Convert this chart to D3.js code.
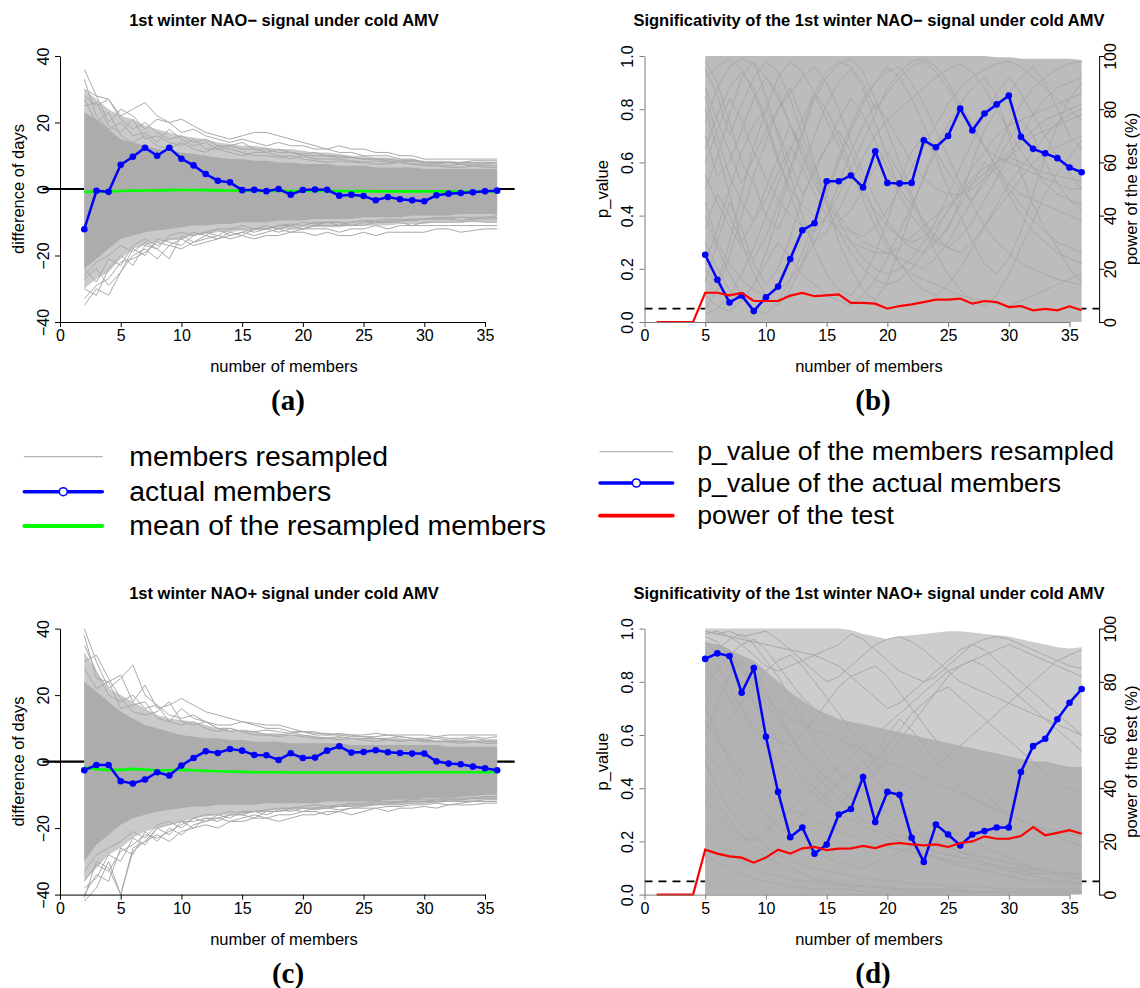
<!DOCTYPE html>
<html><head><meta charset="utf-8">
<script src="https://cdn.jsdelivr.net/npm/d3@7"></script>
<style>body{margin:0;background:#fff}</style>
</head><body><svg id="chart" width="1140" height="988" xmlns="http://www.w3.org/2000/svg"></svg>
<script>
// ---------------- DATA ----------------
const xTicks = [0,5,10,15,20,25,30,35];
const diffTicks = [-40,-20,0,20,40];
const diffTickLabels = ["\u221240","\u221220","0","20","40"];
const pTicks = [0,0.2,0.4,0.6,0.8,1.0];
const pTickLabels = ["0.0","0.2","0.4","0.6","0.8","1.0"];
const powTicks = [0,20,40,60,80,100];
const powTickLabels = ["0","20","40","60","80","100"];

// panel (a): members 2..36
const aActual = [-12.1,-0.55,-0.85,7.3,9.7,12.4,10,12.4,9.1,7.1,4.5,2.5,2.0,-0.35,-0.25,-0.65,0,-1.7,-0.3,-0.15,-0.25,-2,-1.7,-2.1,-3.4,-2.4,-3.1,-3.4,-3.7,-1.9,-1.4,-1.2,-1,-0.7,-0.5];
const aMean = [-0.9,-0.8,-0.7,-0.6,-0.5,-0.45,-0.4,-0.35,-0.3,-0.3,-0.35,-0.4,-0.45,-0.5,-0.55,-0.6,-0.6,-0.6,-0.6,-0.6,-0.6,-0.65,-0.65,-0.65,-0.7,-0.7,-0.7,-0.7,-0.7,-0.7,-0.7,-0.75,-0.75,-0.75,-0.75];
const aCoreHi = [23,21,18,15,14,13,12,11.5,11,10.5,10,9.5,9,9,8.5,8.5,8,8,7.5,7.5,7.5,7,7,7,6.5,6.5,6.5,6.5,6,6,6,6,6,6,6];
const aCoreLo = [-24,-21,-18,-15,-14,-13,-12.5,-12,-11.5,-11,-11,-10.5,-10.5,-10,-10,-10,-9.5,-9.5,-9.5,-9,-9,-9,-9,-8.5,-8.5,-8.5,-8.5,-8,-8,-8,-8,-7.5,-7.5,-7.5,-7.5];
const aOuterHi = [30,27,24,22,21,19,18,17,16,15.5,15,14,13.5,13,13,12.5,12,12,11.5,11,11,10.5,10,10,9.5,9.5,9,9,8.5,8.5,8.5,8,8,8,8];
const aOuterLo = [-30,-27,-25,-21,-18,-17,-16,-15.5,-15,-14,-13.5,-13,-13,-12.5,-12.5,-12,-12,-12,-11.5,-11.5,-11.5,-11.5,-11,-11,-11,-11,-10.5,-10.5,-10.5,-10,-10,-10,-10,-10,-10];
const aMembers = [
 [36,28,27,22,24,26,22,20,21,19,17,16,15,16,17,17,16,15,14,13,12,13,12,12,11,11,10,10,9,9,9,9,9,9,9],
 [30,28,20,24,22,18,21,20,17,18,16,15,14,15,14,13,14,13,13,12,12,11,11,10,10,10,9,9,8,8,8,8,8.5,8.5,8.5],
 [28,25,27,21,18,20,17,15,16,14,15,13,13,12,12,12,11,11,10,10,10,9.5,9.5,9,9,9,8.5,8.5,8,8,8,8,8,8,8],
 [33,22,18,20,16,17,14,18,15,13,14,12,13,14,12,11,12,11,10.5,11,10,10,9.5,9,9,8.5,8,8.5,8,7.5,8,7.5,7.5,7.5,8],
 [25,26,19,17,21,15,16,14,13,15,12,12,11,10,11,11,10,9,10,9,9,9,8.5,8,8.5,8,8,7.5,7.5,7,7,7.5,7,7,7],
 [27,20,23,16,14,16,13,12,14,12,11,13,12,11,10,10,9.5,10,9,8.5,8,8.5,8,8,7.5,7.5,8,7.5,7,7,6.5,6.5,7,6.5,6.5],
 [-35,-30,-32,-25,-20,-18,-21,-17,-18,-16,-15,-14,-15,-14,-15,-14,-14,-13,-13,-14,-13,-14,-14,-13,-14,-13,-13,-13,-13,-12,-12,-13,-12.5,-12,-12],
 [-33,-29,-27,-22,-21,-19,-16,-17,-15,-17,-16,-15,-14,-13,-14,-13,-12,-13,-12,-12,-12,-13,-12,-12,-11,-12,-11,-11,-11,-11,-11,-11,-11,-11,-11],
 [-30,-32,-24,-20,-23,-17,-18,-21,-14,-16,-14,-15,-13,-14,-12,-12,-13,-12,-12,-11,-11,-11,-11,-11,-10,-10,-10,-11,-10,-10,-10,-10,-9.5,-10,-10],
 [-27,-24,-29,-25,-18,-20,-15,-16,-17,-14,-13,-14,-12,-12,-13,-12,-11,-11,-12,-11,-10,-10,-11,-10,-10,-10,-9.5,-9.5,-9,-9,-9,-9.5,-9,-9,-9],
 [-26,-22,-20,-17,-19,-16,-18,-14,-13,-14,-13,-12,-14,-13,-12,-11,-12,-11,-10,-10.5,-10,-11,-10,-9.5,-10,-9.5,-9,-9.5,-9,-9,-9,-8.5,-9,-8.5,-8.5],
 [-24,-28,-21,-23,-17,-15,-17,-15,-15,-13,-14,-12,-12,-11,-12,-12,-11,-10.5,-11,-10,-10,-10,-10,-9.5,-9.5,-9,-9.5,-9,-9,-8.5,-8.5,-8.5,-8.5,-8.5,-8]
];

// panel (b): p-values, members 5..36 ; power 1..36 (%)
const bActual = [.253,.159,.073,.10,.041,.093,.133,.237,.345,.371,.529,.529,.551,.506,.642,.523,.521,.523,.683,.657,.699,.802,.72,.784,.818,.851,.696,.651,.634,.616,.581,.563];
const bPower = [0,0,0,0,11,11,10,10.9,7.9,7.9,7.9,9.9,10.9,9.7,10,10.4,7.2,7.2,6.9,5,6,6.6,7.5,8.4,8.4,8.8,6.9,7.9,7.5,5.6,6,4.4,4.9,4.4,5.9,4.4];
const bTop = [100,100,100,100,100,100,100,100,100,100,100,100,100,100,100,100,100,100,100,100,100,100,100,100,99.5,99.5,99,99,99,99,99,98.5];
const bMembersPct = [
 [98,90,75,60,52,40,35,45,58,70,82,90,95,88,75,62,50,44,38,30,35,46,60,72,80,86,92,96,90,80,70,65],
 [5,12,25,40,55,68,80,88,76,60,45,30,20,12,8,15,28,42,55,66,74,82,88,92,85,70,56,44,35,28,20,15],
 [50,62,78,92,98,85,70,55,40,28,18,12,10,16,26,38,52,64,70,62,50,40,30,22,18,24,34,48,62,74,84,90],
 [80,65,48,30,18,10,6,12,22,35,48,60,72,82,90,96,92,84,74,64,56,50,46,52,60,68,76,70,60,52,46,42],
 [30,20,12,8,14,26,40,56,70,84,92,97,99,94,84,72,60,48,36,26,18,12,8,6,10,18,28,38,48,56,62,68],
 [65,78,88,94,88,76,62,48,36,30,34,42,52,62,70,76,80,84,88,92,95,97,94,88,80,72,64,58,52,48,46,44],
 [15,30,45,35,22,14,20,32,46,58,66,72,64,52,40,30,22,16,12,10,14,20,28,36,44,52,58,64,70,75,78,80],
 [92,96,99,95,86,74,60,50,44,40,38,36,34,32,36,42,50,58,66,74,82,88,92,95,97,98,96,92,88,84,80,76],
 [40,28,18,10,5,3,8,16,26,38,50,62,74,84,90,94,96,90,82,72,62,52,44,36,30,26,22,20,18,16,15,14],
 [70,55,60,72,84,92,86,74,62,52,44,38,42,50,58,64,56,46,38,32,28,26,30,36,42,48,54,60,64,66,68,70],
 [22,35,50,64,74,80,72,60,48,56,66,76,84,78,68,58,48,40,34,30,28,32,38,46,54,62,70,78,84,88,90,92],
 [88,76,64,52,62,72,80,86,92,96,90,80,68,56,46,38,32,28,26,30,36,44,52,60,56,48,40,34,30,26,24,22],
 [10,6,4,8,14,22,30,24,18,14,10,8,6,10,16,24,34,44,54,64,72,78,74,66,58,50,44,38,34,30,28,26],
 [55,45,36,28,24,32,44,58,72,86,94,98,96,90,80,86,92,96,98,94,88,80,72,66,62,60,58,56,54,52,50,50],
 [95,85,70,82,92,98,94,84,70,58,48,40,34,30,28,26,24,22,20,24,30,38,46,54,64,74,82,88,92,95,97,98],
 [35,48,40,30,38,50,62,74,66,56,46,38,30,24,20,18,20,24,30,38,48,58,68,78,86,92,86,78,70,62,56,50],
 [3,5,10,18,28,40,52,64,76,86,80,70,58,46,36,28,22,18,16,14,12,10,9,8,7,6,8,10,12,14,16,18],
 [60,72,84,76,64,54,46,40,36,34,40,48,58,68,78,88,94,98,99,96,90,82,74,66,58,52,48,46,44,42,40,38],
 [45,30,22,16,12,10,12,16,22,30,40,52,64,74,82,76,68,60,54,50,48,48,50,54,58,62,66,70,72,74,76,78],
 [75,88,96,99,97,92,84,74,64,54,44,34,26,20,16,14,16,20,26,34,42,50,58,64,70,74,76,78,80,82,84,86],
 [20,14,30,48,66,80,92,98,94,86,76,66,56,48,42,36,32,30,32,36,42,48,54,58,60,62,60,58,56,55,54,53],
 [85,70,55,45,38,46,56,66,58,48,40,34,30,28,26,26,28,32,36,40,44,48,52,56,60,64,68,72,76,78,80,82]
];

// panel (c): members 2..36
const cActual = [-2.6,-1,-1,-5.9,-6.6,-5.4,-3.2,-4.2,-1.2,1.1,3.1,2.6,3.8,3.3,2,1.9,0.5,2.5,1.1,1.2,3.3,4.6,2.7,2.9,3.4,2.8,2.6,2.4,2.4,0.1,-0.6,-0.8,-1.5,-2,-2.6];
const cMean = [-1.8,-2.3,-2.5,-2.5,-2.2,-2.4,-2.6,-2.6,-2.4,-2.6,-2.8,-2.9,-3.0,-3.1,-3.2,-3.2,-3.2,-3.3,-3.3,-3.3,-3.3,-3.3,-3.3,-3.3,-3.3,-3.3,-3.3,-3.2,-3.2,-3.2,-3.2,-3.2,-3.2,-3.2,-3.2];
const cCoreHi = [24,21,18,15,13,11,10,9,8,7.5,7,7,6.5,6.5,6,6,6,5.5,5.5,5.5,5.5,5.5,5,5,5,5,5,5,5,5,4.5,4.5,4.5,4.5,4.5];
const cCoreLo = [-30,-25,-22,-19,-17,-16,-15,-14.5,-14,-13.5,-13.5,-13,-13,-13,-13,-12.5,-12.5,-12.5,-12.5,-12.5,-12,-12,-12,-12,-12,-11.5,-11.5,-11.5,-11,-11,-11,-10.5,-10.5,-10,-10];
const cOuterHi = [33,27,22,20,18,16,14,13,12.5,12,11,10,9.5,9,9,8.5,8.5,8,8,7.5,7.5,7.5,7,7,7,7,7,6.5,6.5,6.5,6.5,6.5,6.5,6.5,6.5];
const cOuterLo = [-36,-32,-28,-26,-23,-21,-20,-19,-18,-17,-16.5,-16,-16,-15.5,-15,-15,-14.5,-14.5,-14,-14,-14,-13.5,-13.5,-13.5,-13,-13,-13,-12.5,-12.5,-12.5,-12,-12,-12,-11.5,-11.5];
const cMembers = [
 [40,30,22,25,29,20,17,14,13,14,12,11,11,12,11,10,10,9,9,8.5,8.5,8,8,8,8.5,8,8,8,8,7.5,8,8,8,8,8],
 [38,25,24,26,18,23,16,17,19,17,15,14,13,12,11.5,11,11,10,9,9,8,8.5,8,7.5,7.5,8,7.5,7,7,7.5,7,7,7.5,7,7.5],
 [35,27,20,18,20,16,17,12,16,13,12,10,10,9,9,9.5,9,8.5,9,8,8,8,7.5,7.5,7,7,7.5,7,6.5,7,6.5,6.5,7,6.5,6.5],
 [30,32,25,19,15,14,15,18,12,11,12,10,9,9.5,9,8,8,8.5,8,7.5,7,7.5,7,7,7,6.5,6.5,6.5,6.5,6,6,6,6,6,6],
 [28,22,24,16,17,18,13,12,11,12,10,9,10,9,8,8,7.5,8,7.5,7,7,6.5,7,6.5,6,6.5,6,6.5,6,6,6,5.5,6,5.5,5.5],
 [-42,-38,-30,-40,-27,-24,-22,-24,-21,-20,-19,-20,-18,-18,-17,-17,-18,-17,-16,-16,-15,-15,-16,-15,-14,-15,-14,-14,-13.5,-14,-13,-13,-13,-12.5,-12.5],
 [-40,-34,-36,-26,-28,-21,-24,-20,-22,-19,-18,-17,-18,-17,-16,-17,-16,-16,-15,-15,-16,-15,-14,-14,-14,-13.5,-13.5,-13,-13,-12.5,-13,-12.5,-12,-12,-12],
 [-38,-35,-28,-30,-23,-25,-20,-19,-18,-20,-17,-18,-16,-16,-17,-15,-15,-14.5,-15,-14,-14,-14.5,-14,-13.5,-13,-13,-13,-12.5,-12.5,-12,-12,-12,-12,-11.5,-11.5],
 [-36,-31,-33,-27,-25,-22,-23,-21,-19,-17,-18,-16,-17,-15,-15,-16,-14.5,-15,-14,-14.5,-14,-13.5,-13.5,-13,-13,-12.5,-12.5,-12,-12,-12,-11.5,-11.5,-11,-11,-11],
 [-33,-28,-26,-24,-21,-23,-19,-18,-20,-17,-16,-16,-15,-15.5,-15,-14.5,-14,-14,-13.5,-13,-13.5,-13,-12.5,-12.5,-12,-12,-12,-11.5,-11.5,-11.5,-11,-11,-11,-10.5,-10.5],
 [-41,-30,-32,-40,-26,-24,-20,-22,-18,-18,-17,-17,-16,-16,-15,-15,-15,-14,-14,-14,-13.5,-13.5,-13,-13,-12.5,-12.5,-12,-12,-12,-11.5,-11.5,-11.5,-11,-11,-11]
];

// panel (d): p-values, members 5..36 ; power 1..36 (%)
const dActual = [.886,.907,.897,.759,.852,.593,.386,.216,.252,.154,.188,.301,.322,.442,.273,.386,.375,.214,.123,.263,.226,.185,.226,.239,.252,.252,.461,.558,.586,.659,.721,.773];
const dPower = [0,0,0,0,16.9,15.4,14.4,13.9,12,13.9,16.9,15.4,17.4,17.9,16.7,17.3,17.4,18.3,17.5,18.9,19.4,18.9,18.5,18.9,17.9,19.4,20,21.9,21,21,22,25.4,22.3,23.2,24.2,22.9];
const dTop = [100,100,100,100,100,100,100,100,100,100,100,100,99.5,98,97,96,97,97.5,98,98.5,99,99,98.5,98,97.5,97,96,95,94,93,92.5,93];
const dDense = [95,94,92,90,88,84,80,76,73,70,68,66,65,64,63,62,61,60,59,58,57,56,55,54,53,52,51,50,50,49,48,48];
const dMembersPct = [
 [99,98,97,96,95,94,93,92,91,90,92,94,98,96,92,88,84,82,80,82,86,90,94,96,97,96,94,92,90,88,86,85],
 [95,90,85,80,72,65,58,50,44,40,36,34,38,44,52,60,66,62,56,50,44,40,36,34,32,30,28,26,24,22,20,18],
 [88,92,96,98,94,88,82,74,66,58,52,46,42,38,34,30,27,24,22,20,18,16,15,14,13,12,11,10,9,8,8,7],
 [70,60,50,42,36,30,26,22,18,16,14,12,11,10,12,14,16,18,20,22,24,22,20,18,16,14,12,10,9,8,7,6],
 [98,99,97,94,90,86,84,86,88,90,88,86,82,78,74,70,72,76,80,84,88,92,94,92,88,84,80,76,72,68,64,60],
 [60,72,82,88,84,76,68,60,52,46,40,36,32,28,26,24,22,20,18,16,15,14,13,12,11,10,9,8,8,7,6,6],
 [40,34,28,22,18,14,12,10,8,6,5,4,4,3,3,3,2,2,2,2,2,1,1,1,1,1,1,1,1,1,1,1],
 [92,86,78,70,64,60,58,56,60,66,72,78,82,84,86,82,76,70,64,58,52,46,42,38,34,30,28,26,24,22,20,18],
 [80,84,90,94,96,92,86,80,74,70,66,62,58,54,50,56,62,68,72,76,78,74,70,66,62,58,54,50,46,42,40,38],
 [25,20,16,12,10,8,7,6,5,5,4,4,3,3,3,2,2,2,2,2,2,2,1,1,1,1,1,1,1,1,1,1],
 [85,80,74,68,62,56,50,46,42,38,34,30,28,26,24,22,20,18,16,14,12,11,10,9,8,7,6,5,5,4,4,4],
 [99,98,99,97,98,99,96,92,88,84,80,82,86,90,94,96,97,95,92,88,84,80,78,76,74,72,70,68,66,64,62,60],
 [55,48,42,36,30,26,22,26,30,34,38,42,46,50,44,38,32,28,24,20,18,16,14,12,10,9,8,7,6,5,5,4],
 [75,70,66,72,78,84,88,90,86,80,74,68,62,56,50,46,42,40,44,48,52,56,60,64,68,72,76,80,84,88,90,92],
 [15,12,10,8,6,5,4,3,3,2,2,2,2,1,1,1,1,1,1,1,1,1,1,1,1,1,1,1,1,1,1,1],
 [90,94,92,86,80,74,70,66,64,62,60,58,56,54,52,50,48,46,44,42,40,38,36,34,32,30,28,26,25,24,23,22],
 [65,58,52,46,42,38,35,32,30,28,26,24,22,20,19,18,17,16,15,14,13,12,12,11,11,10,10,9,9,8,8,8],
 [97,95,90,84,78,72,66,60,54,48,44,40,36,40,46,52,58,64,70,76,82,86,88,86,82,78,74,70,66,62,58,54],
 [35,30,26,22,20,24,28,32,36,40,44,48,52,56,60,64,68,72,76,80,84,86,88,90,92,94,92,90,88,86,84,82],
 [50,40,32,26,22,18,15,13,11,10,9,8,7,6,6,5,5,4,4,4,3,3,3,3,2,2,2,2,2,2,2,2]
];

const legendLeft = ["members resampled","actual members","mean of the resampled members"];
const legendRight = ["p_value of the members resampled","p_value of the actual members","power of the test"];

// ---------------- DRAWING ----------------
const svg = d3.select('#chart');
const FONT = "'Liberation Sans', Arial, Helvetica, sans-serif";
const SERIF = "'Liberation Serif', 'Times New Roman', serif";
const PX = 12.143, TOP = 56, BOT = 322, DY = 572.6;
const XA = 60, XB = 644.5;
const GRAY = '#a9a9a9';
const defs = svg.append('defs');

function xScale(x0){ return d3.scaleLinear().domain([0,35]).range([x0, x0 + 35*PX]); }

function styleText(sel, size){ sel.attr('font-family', FONT).attr('font-size', size).attr('fill', '#000'); }

function bottomAxis(g, x, yPix, color){
  const ax = g.append('g').attr('transform', `translate(0,${yPix})`)
    .call(d3.axisBottom(x).tickValues(xTicks).tickSize(5).tickSizeOuter(0).tickFormat(d3.format('d')));
  ax.attr('color', color);
  styleText(ax.selectAll('text'), 16);
}
function vertAxis(g, y, xPix, ticks, labels, color, side, off){
  const gen = side === 'left' ? d3.axisLeft(y) : d3.axisRight(y);
  const ax = g.append('g').attr('transform', `translate(${xPix},0)`)
    .call(gen.tickValues(ticks).tickSize(5).tickSizeOuter(0).tickFormat((d,i)=>labels[i]));
  ax.attr('color', color);
  const t = ax.selectAll('text');
  styleText(t, 16);
  t.attr('x', null).attr('dy', '0.35em').attr('text-anchor', 'middle')
   .attr('transform', `translate(${side==='left' ? -off : off},0) rotate(-90)`);
}
function rotLabel(x, y, txt){
  svg.append('text').attr('transform', `translate(${x},${y}) rotate(-90)`).attr('text-anchor','middle')
    .attr('dy','0.35em').text(txt).call(s=>styleText(s,16.5));
}
function title(x, y, txt){
  svg.append('text').attr('x',x).attr('y',y).attr('text-anchor','middle').attr('font-weight','bold')
    .text(txt).call(s=>styleText(s,16.5));
}
function panelTag(x, y, txt){
  svg.append('text').attr('x',x).attr('y',y).attr('text-anchor','middle').attr('font-weight','bold')
    .attr('font-family',SERIF).attr('font-size',29).attr('fill','#000').text(txt);
}
function blueSeries(g, x, y, xs, vals){
  g.append('path').datum(vals).attr('fill','none').attr('stroke','#0000ff').attr('stroke-width',2.5)
    .attr('d', d3.line().x((d,i)=>x(xs[i])).y(d=>y(d)));
  g.selectAll(null).data(vals).enter().append('circle')
    .attr('cx',(d,i)=>x(xs[i])).attr('cy',d=>y(d)).attr('r',3.3).attr('fill','#0000ff');
}

function diffPanel(oy, ttl, tag, actual, mean, coreHi, coreLo, outerHi, outerLo, members){
  const x = xScale(XA);
  const y = d3.scaleLinear().domain([-40,40]).range([BOT+oy, TOP+oy]);
  const xs = d3.range(2,37);
  const id = 'clip' + Math.round(oy);
  defs.append('clipPath').attr('id', id).append('rect')
    .attr('x', x(-1.44)).attr('y', y(43.2)).attr('width', x(37.44)-x(-1.44)).attr('height', y(-43.2)-y(43.2));
  const g = svg.append('g');
  g.append('line').attr('x1',x(-1.44)).attr('x2',x(37.44)).attr('y1',y(0)).attr('y2',y(0))
    .attr('stroke','#000').attr('stroke-width',2.2);
  const pg = g.append('g').attr('clip-path', `url(#${id})`);
  pg.append('path').datum(xs).attr('fill','#cacaca')
    .attr('d', d3.area().x(d=>x(d)).y0((d,i)=>y(outerLo[i])).y1((d,i)=>y(outerHi[i])));
  pg.append('path').datum(xs).attr('fill','#acacac')
    .attr('d', d3.area().x(d=>x(d)).y0((d,i)=>y(coreLo[i])).y1((d,i)=>y(coreHi[i])));
  members.forEach(m => pg.append('path').datum(m).attr('fill','none').attr('stroke',GRAY).attr('stroke-width',1)
    .attr('d', d3.line().x((d,i)=>x(xs[i])).y(d=>y(d))));
  g.append('path').datum(mean).attr('fill','none').attr('stroke','#00ff00').attr('stroke-width',2.6)
    .attr('d', d3.line().x((d,i)=>x(xs[i])).y(d=>y(d)));
  blueSeries(g, x, y, xs, actual);
  bottomAxis(g, x, BOT+oy, '#000');
  vertAxis(g, y, XA, diffTicks, diffTickLabels, '#000', 'left', 16.5);
  rotLabel(18.3, 189+oy, 'difference of days');
  svg.append('text').attr('x',284).attr('y',372+oy).attr('text-anchor','middle').text('number of members').call(s=>styleText(s,16.5));
  title(284, 26+oy, ttl);
  panelTag(288, 410+oy, tag);
}

function pPanel(oy, ttl, tag, actual, power, top, dense, members){
  const x = xScale(XB);
  const y = d3.scaleLinear().domain([0,1]).range([BOT+oy, TOP+oy]);
  const yp = d3.scaleLinear().domain([0,100]).range([BOT+oy, TOP+oy]);
  const xs = d3.range(5,37);
  const xsPow = d3.range(1,37);
  const g = svg.append('g');
  g.append('line').attr('x1',x(0)).attr('x2',x(37.44)).attr('y1',y(0.05)).attr('y2',y(0.05))
    .attr('stroke','#000').attr('stroke-width',1.8).attr('stroke-dasharray','8,6');
  g.append('path').datum(xs).attr('fill', dense ? '#cdcdcd' : '#bcbcbc')
    .attr('d', d3.area().x(d=>x(d)).y0(yp(0)).y1((d,i)=>yp(top[i])));
  if (dense) g.append('path').datum(xs).attr('fill','#b2b2b2')
    .attr('d', d3.area().x(d=>x(d)).y0(yp(0)).y1((d,i)=>yp(dense[i])));
  members.forEach(m => g.append('path').datum(m).attr('fill','none').attr('stroke',GRAY).attr('stroke-width',1)
    .attr('d', d3.line().x((d,i)=>x(xs[i])).y(d=>yp(d))));
  blueSeries(g, x, y, xs, actual);
  g.append('path').datum(power).attr('fill','none').attr('stroke','#ff0000').attr('stroke-width',2.2)
    .attr('d', d3.line().x((d,i)=>x(xsPow[i])).y(d=>yp(d)));
  bottomAxis(g, x, BOT+oy, '#7a7a7a');
  vertAxis(g, y, XB, pTicks, pTickLabels, '#7a7a7a', 'left', 17.5);
  vertAxis(g, yp, x(37.44), powTicks, powTickLabels, '#000', 'right', 11);
  rotLabel(602, 189+oy, 'p_value');
  rotLabel(1131.7, 189+oy, 'power of the test (%)');
  svg.append('text').attr('x',869).attr('y',372+oy).attr('text-anchor','middle').text('number of members').call(s=>styleText(s,16.5));
  title(869, 26+oy, ttl);
  panelTag(873, 410+oy, tag);
}

diffPanel(0, '1st winter NAO\u2212 signal under cold AMV', '(a)', aActual, aMean, aCoreHi, aCoreLo, aOuterHi, aOuterLo, aMembers);
pPanel(0, 'Significativity of the 1st winter NAO\u2212 signal under cold AMV', '(b)', bActual, bPower, bTop, null, bMembersPct);
diffPanel(DY, '1st winter NAO+ signal under cold AMV', '(c)', cActual, cMean, cCoreHi, cCoreLo, cOuterHi, cOuterLo, cMembers);
pPanel(DY, 'Significativity of the 1st winter NAO+ signal under cold AMV', '(d)', dActual, dPower, dTop, dDense, dMembersPct);

// ---------------- LEGENDS ----------------
function legend(x1, x2, tx, rows, labels, size){
  const styles = [
    {c:'#b4b4b4', w:1.2, dot:false},
    {c:'#0000ff', w:3.5, dot:true},
    {c: rows.third, w:3.8, dot:false}
  ];
  rows.y.forEach((yy,i)=>{
    const s = styles[i];
    svg.append('line').attr('x1',x1).attr('x2',x2).attr('y1',yy).attr('y2',yy)
      .attr('stroke',s.c).attr('stroke-width',s.w).attr('stroke-linecap','round');
    if (s.dot) svg.append('circle').attr('cx',(x1+x2)/2).attr('cy',yy).attr('r',4)
      .attr('fill','#fff').attr('stroke','#0000ff').attr('stroke-width',1.6);
    svg.append('text').attr('x',tx).attr('y',yy).attr('dy','0.33em').text(labels[i]).call(t=>styleText(t,size));
  });
}
legend(24.3, 102.3, 129.3, {y:[456.7,491.7,526], third:'#00ff00'}, legendLeft, 28.4);
legend(600, 672.7, 697.3, {y:[451.7,483,515.7], third:'#ff0000'}, legendRight, 26.6);
</script>
</body></html>
